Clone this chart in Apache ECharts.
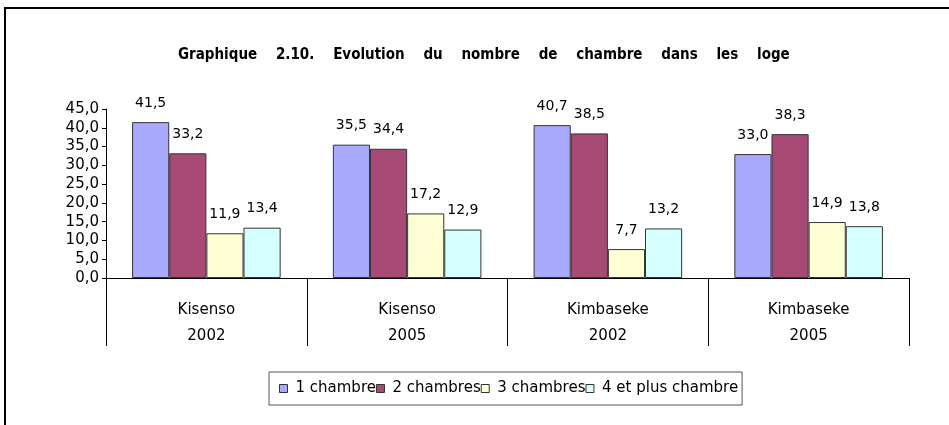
<!DOCTYPE html>
<html lang="fr">
<head>
<meta charset="UTF-8">
<title>Graphique 2.10</title>
<script src="https://cdn.jsdelivr.net/npm/echarts@6/dist/echarts.min.js"></script>
<style>
  html, body { margin: 0; padding: 0; background: #fff; }
  #main { width: 949px; height: 425px; }
</style>
</head>
<body>
<div id="main"></div>
<script>
  // categories: commune + year (two-row axis)
  var communes = ['Kisenso', 'Kisenso', 'Kimbaseke', 'Kimbaseke'];
  var years = ['2002', '2005', '2002', '2005'];
  var seriesNames = ['1 chambre', '2 chambres', '3 chambres', '4 et plus chambre'];
  var une = [41.5, 35.5, 40.7, 33.0];
  var deux = [33.2, 34.4, 38.5, 38.3];
  var trois = [11.9, 17.2, 7.7, 14.9];
  var quatre = [13.4, 12.9, 13.2, 13.8];
  var colors = ['#a9a9fd', '#a84a76', '#ffffd6', '#d6ffff'];

  var fr = v => v.toFixed(1).replace('.', ',');
  var font = 'DejaVu Sans';

  var chart = echarts.init(document.getElementById('main'));
  var values = [une, deux, trois, quatre];

  chart.setOption({
    animation: false,
    title: {
      text: 'Graphique    2.10.    Evolution    du    nombre    de    chambre    dans    les    loge',
      left: 173,
      top: 43,
      textStyle: { fontFamily: 'DejaVu Sans Condensed', fontSize: 15, fontWeight: 'bold', color: '#000' }
    },
    graphic: [{
      type: 'rect',
      shape: { x: 5, y: 8, width: 980, height: 440 },
      style: { fill: 'none', stroke: '#000', lineWidth: 2 }
    }],
    legend: {
      left: 269,
      top: 372,
      width: 476,
      height: 30,
      padding: [9, 4, 9, 10],
      borderColor: '#555',
      borderWidth: 1,
      itemWidth: 8,
      itemHeight: 8,
      itemGap: 0,
      icon: 'rect',
      textStyle: { fontFamily: font, fontSize: 15, color: '#000', padding: [0, 0, 0, 3] },
      data: seriesNames.map((n, i) => ({ name: n, itemStyle: { color: colors[i], borderColor: '#333', borderWidth: 1 } }))
    },
    grid: { left: 106, right: 40, top: 109, bottom: 147 },
    xAxis: {
      type: 'category',
      data: communes.map((c, i) => c + '\n' + years[i]),
      axisLine: { lineStyle: { color: '#000', width: 1 } },
      axisTick: { show: true, length: 68, interval: 0, lineStyle: { color: '#000' } },
      axisLabel: { interval: 0, margin: 19, lineHeight: 26, fontFamily: font, fontSize: 15, color: '#000' }
    },
    yAxis: {
      type: 'value',
      min: 0,
      max: 45,
      interval: 5,
      splitLine: { show: false },
      axisLine: { show: true, lineStyle: { color: '#000' } },
      axisTick: { show: true, length: 4, lineStyle: { color: '#000' } },
      axisLabel: { formatter: fr, margin: 7, fontFamily: font, fontSize: 15, color: '#000' }
    },
    series: values.map((vals, i) => ({
      name: seriesNames[i],
      type: 'bar',
      data: vals,
      barGap: '0%',
      barCategoryGap: '26%',
      itemStyle: { color: colors[i], borderColor: '#333', borderWidth: 1 },
      label: {
        show: true,
        position: 'top',
        distance: 12,
        formatter: p => fr(p.value),
        fontFamily: font,
        fontSize: 14,
        color: '#000'
      }
    }))
  });
</script>
</body>
</html>
